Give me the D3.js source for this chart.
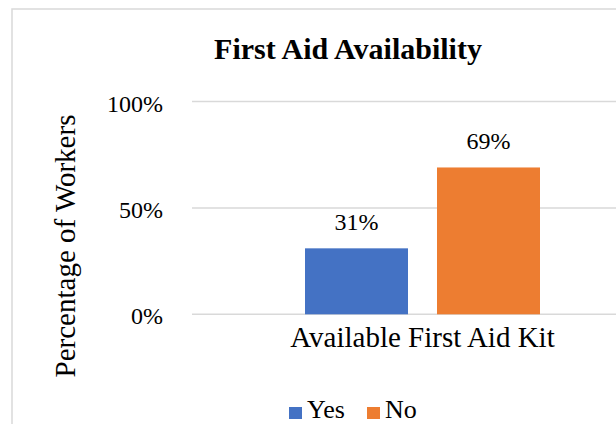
<!DOCTYPE html>
<html>
<head>
<meta charset="utf-8">
<script src="https://cdn.jsdelivr.net/npm/d3@7/dist/d3.min.js"></script>
<style>
  html, body { margin: 0; padding: 0; background: #fff; overflow: hidden; }
  svg { display: block; }
  svg text { font-family: "Liberation Serif", "DejaVu Serif", serif; fill: #000; }
</style>
</head>
<body>
<svg id="chart" width="616" height="424"></svg>
<script>
const categories = ["Available First Aid Kit"];
const seriesNames = ["Yes", "No"];
const yesValues = [0.31];
const noValues = [0.69];
const yTicks = [0, 0.5, 1];
const seriesColors = ["#4472C4", "#ED7D31"];

const FONT = "'Liberation Serif', 'DejaVu Serif', serif";
const svg = d3.select("#chart");

// chart border
svg.append("rect")
  .attr("x", 12).attr("y", 9)
  .attr("width", 700).attr("height", 500)
  .attr("fill", "none").attr("stroke", "#d9d9d9").attr("stroke-width", 1.5);

const plotLeft = 192, plotRight = 653, plotTop = 101.5, plotBottom = 314.3;

const y = d3.scaleLinear().domain([0, 1]).range([plotBottom, plotTop]);
const x0 = d3.scaleBand().domain(categories).range([plotLeft, plotRight])
  .paddingInner(0).paddingOuter(0.4809);
const x1 = d3.scaleBand().domain(seriesNames).range([0, x0.bandwidth()])
  .paddingInner(0.2197).paddingOuter(0);

// gridlines
svg.append("g").selectAll("line").data(yTicks).join("line")
  .attr("x1", plotLeft).attr("x2", plotRight)
  .attr("y1", d => y(d)).attr("y2", d => y(d))
  .attr("stroke", "#d9d9d9").attr("stroke-width", 1.5);

// y axis labels
const yAxis = svg.append("g")
  .attr("transform", `translate(${plotLeft},0)`)
  .call(d3.axisLeft(y).tickValues(yTicks).tickSize(0).tickPadding(29)
    .tickFormat(d3.format(".0%")));
yAxis.attr("font-family", null).attr("font-size", null);
yAxis.select(".domain").remove();
yAxis.selectAll("text")
  .attr("dy", "0.4em")
  .style("font-size", "24px")
  .style("font-family", FONT)
  .attr("fill", "#000");

// x axis label
const xAxis = svg.append("g")
  .attr("transform", `translate(0,${plotBottom})`)
  .call(d3.axisBottom(x0).tickSize(0));
xAxis.attr("font-family", null).attr("font-size", null);
xAxis.select(".domain").remove();
xAxis.selectAll("text")
  .attr("y", 33).attr("dy", 0)
  .style("font-size", "29px")
  .style("font-family", FONT)
  .attr("fill", "#000");

// bars
const rows = categories.map((c, i) => ({
  category: c,
  values: [
    { name: seriesNames[0], value: yesValues[i], color: seriesColors[0] },
    { name: seriesNames[1], value: noValues[i], color: seriesColors[1] }
  ]
}));

const groups = svg.append("g").selectAll("g").data(rows).join("g")
  .attr("transform", d => `translate(${x0(d.category)},0)`);

groups.selectAll("rect").data(d => d.values).join("rect")
  .attr("x", d => x1(d.name))
  .attr("y", d => y(d.value))
  .attr("width", x1.bandwidth())
  .attr("height", d => y(0) - y(d.value))
  .attr("fill", d => d.color);

groups.selectAll("text.lbl").data(d => d.values).join("text")
  .attr("class", "lbl")
  .attr("x", d => x1(d.name) + x1.bandwidth() / 2)
  .attr("y", d => y(d.value) - 18)
  .attr("text-anchor", "middle")
  .style("font-size", "24px")
  .style("font-family", FONT)
  .text(d => d3.format(".0%")(d.value));

// title
svg.append("text")
  .attr("x", 348).attr("y", 59)
  .attr("text-anchor", "middle")
  .style("font-size", "30px")
  .style("font-weight", "bold")
  .style("font-family", FONT)
  .text("First Aid Availability");

// y axis title
svg.append("text")
  .attr("transform", "translate(75,246) rotate(-90)")
  .attr("text-anchor", "middle")
  .style("font-size", "29px")
  .style("font-family", FONT)
  .text("Percentage of Workers");

// legend
const legendX = [289, 367];
const legend = svg.append("g").selectAll("g").data(seriesNames).join("g");
legend.append("rect")
  .attr("x", (d, i) => legendX[i]).attr("y", 407)
  .attr("width", 13).attr("height", 12)
  .attr("fill", (d, i) => seriesColors[i]);
legend.append("text")
  .attr("x", (d, i) => legendX[i] + 18).attr("y", 418)
  .style("font-size", "26px")
  .style("font-family", FONT)
  .text(d => d);
</script>
</body>
</html>
